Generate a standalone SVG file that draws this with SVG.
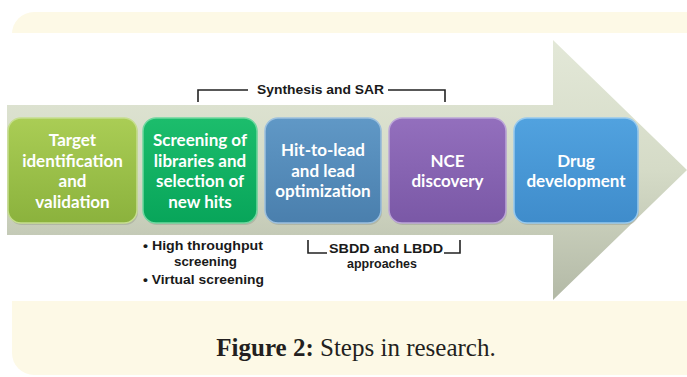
<svg xmlns="http://www.w3.org/2000/svg" width="687" height="377" viewBox="0 0 687 377">
<defs>
<style>
.box-label{font-family:Lato,"Open Sans",sans-serif;font-weight:bold;font-size:17px;fill:#ffffff;text-anchor:middle}
.note{font-family:"Liberation Sans",Arial,sans-serif;font-weight:bold;font-size:13px;fill:#1a1a1a}
.bracket{fill:none;stroke:#222;stroke-width:1.6}
.box{stroke-width:1.5}
.shadow{fill:#6f7566;opacity:0.25}
</style>
<linearGradient id="arrowG" gradientUnits="userSpaceOnUse" x1="0" y1="40" x2="0" y2="300">
<stop offset="0" stop-color="#e3e8d8"/>
<stop offset="0.5" stop-color="#d5dbc7"/>
<stop offset="1" stop-color="#b3b9a6"/>
</linearGradient>
<linearGradient id="g1" x1="0" y1="0" x2="0" y2="1"><stop offset="0" stop-color="#aacd55"/><stop offset="1" stop-color="#8bb23d"/></linearGradient>
<linearGradient id="g2" x1="0" y1="0" x2="0" y2="1"><stop offset="0" stop-color="#1cbd6c"/><stop offset="1" stop-color="#08a55a"/></linearGradient>
<linearGradient id="g3" x1="0" y1="0" x2="0" y2="1"><stop offset="0" stop-color="#6098c6"/><stop offset="1" stop-color="#4a7fad"/></linearGradient>
<linearGradient id="g4" x1="0" y1="0" x2="0" y2="1"><stop offset="0" stop-color="#936fbd"/><stop offset="1" stop-color="#7a58a6"/></linearGradient>
<linearGradient id="g5" x1="0" y1="0" x2="0" y2="1"><stop offset="0" stop-color="#51a2df"/><stop offset="1" stop-color="#3f8ccb"/></linearGradient>
</defs>
<rect x="0" y="0" width="687" height="377" fill="#ffffff"/>
<rect x="12" y="12" width="700" height="363" rx="22" fill="#fdf9e6"/>
<rect x="0" y="33" width="687" height="268" fill="#ffffff"/>
<polygon points="7,105 553,105 553,40 687,170 553,300 553,235 7,235" fill="url(#arrowG)"/>

<g id="connectors">
<path class="bracket" d="M198,102 V90 H248 M388,90 H445 V102"/>
<path class="bracket" d="M308,240 V253 H327 M444,253 H460 V240"/>
</g>

<g id="target">
<rect class="shadow" x="9" y="120" width="129" height="105" rx="13"/>
<rect class="box" x="8" y="118" width="129" height="105" rx="13" fill="url(#g1)" stroke="#c6de8e"/>
<text class="box-label"><tspan x="72.5" y="146">Target</tspan><tspan x="72.5" y="166.5">identification</tspan><tspan x="72.5" y="187">and</tspan><tspan x="72.5" y="207.5">validation</tspan></text>
</g>
<g id="screening">
<rect class="shadow" x="144" y="120" width="114" height="105" rx="13"/>
<rect class="box" x="143" y="118" width="114" height="105" rx="13" fill="url(#g2)" stroke="#6fd79f"/>
<text class="box-label"><tspan x="200" y="146">Screening of</tspan><tspan x="200" y="166.5">libraries and</tspan><tspan x="200" y="187">selection of</tspan><tspan x="200" y="207.5">new hits</tspan></text>
</g>
<g id="hit-to-lead">
<rect class="shadow" x="266" y="120" width="116" height="105" rx="13"/>
<rect class="box" x="265" y="118" width="116" height="105" rx="13" fill="url(#g3)" stroke="#9cc0de"/>
<text class="box-label"><tspan x="323" y="156">Hit-to-lead</tspan><tspan x="323" y="176.5">and lead</tspan><tspan x="323" y="197">optimization</tspan></text>
</g>
<g id="nce">
<rect class="shadow" x="390" y="120" width="117" height="105" rx="13"/>
<rect class="box" x="389" y="118" width="117" height="105" rx="13" fill="url(#g4)" stroke="#bca6d8"/>
<text class="box-label"><tspan x="447.5" y="166.5">NCE</tspan><tspan x="447.5" y="187">discovery</tspan></text>
</g>
<g id="drug">
<rect class="shadow" x="515" y="120" width="124" height="105" rx="13"/>
<rect class="box" x="514" y="118" width="124" height="105" rx="13" fill="url(#g5)" stroke="#97c9ee"/>
<text class="box-label"><tspan x="576" y="166.5">Drug</tspan><tspan x="576" y="187">development</tspan></text>
</g>

<g id="labels">
<text class="note" x="257" y="94" textLength="127" lengthAdjust="spacingAndGlyphs">Synthesis and SAR</text>
<text class="note"><tspan x="143" y="250" textLength="120" lengthAdjust="spacingAndGlyphs">• High throughput</tspan><tspan x="174" y="266" textLength="63" lengthAdjust="spacingAndGlyphs">screening</tspan></text>
<text class="note" x="143" y="284" textLength="121" lengthAdjust="spacingAndGlyphs">• Virtual screening</text>
<text class="note"><tspan x="329" y="253" textLength="114" lengthAdjust="spacingAndGlyphs">SBDD and LBDD</tspan><tspan x="347" y="268" textLength="70" lengthAdjust="spacingAndGlyphs">approaches</tspan></text>
</g>

<text x="356" y="356" text-anchor="middle" font-family="'Liberation Serif','Times New Roman',serif" font-size="25" fill="#231f20"><tspan font-weight="bold">Figure 2:</tspan> Steps in research.</text>
</svg>
